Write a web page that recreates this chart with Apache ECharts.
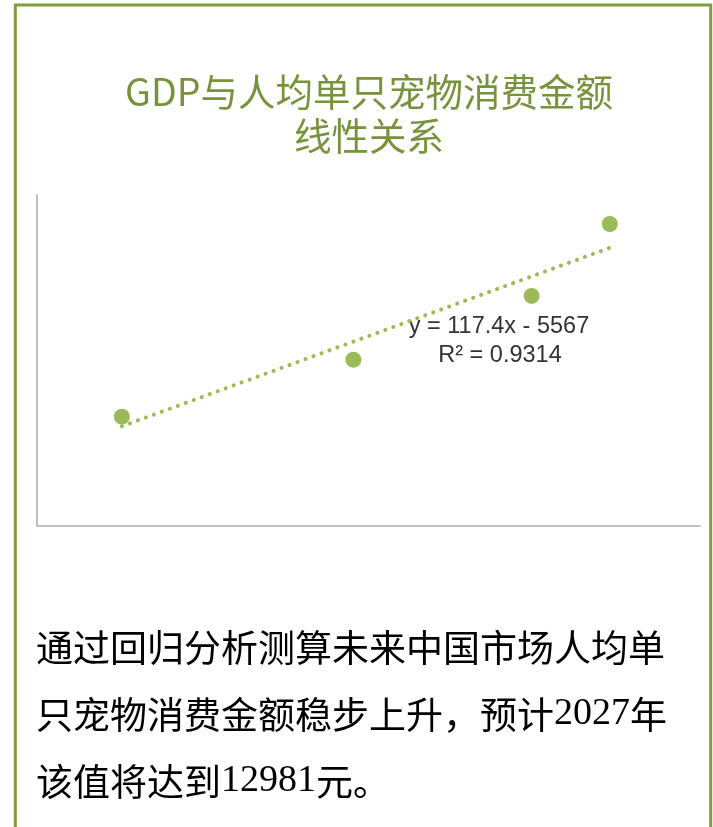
<!DOCTYPE html>
<html>
<head>
<meta charset="utf-8">
<script src="https://cdn.jsdelivr.net/npm/echarts@6/dist/echarts.min.js"></script>
<style>
  html, body { margin: 0; padding: 0; background: #ffffff; }
  #chart { width: 713px; height: 827px; }
</style>
</head>
<body>
<div id="chart"></div>
<script>
// GDP (万亿元) for each year and the matching per-pet annual spend (元)
const gdp = [83.2, 91.93, 98.65, 101.6];
const spendPerPet = [4317, 5007, 5778, 6649];

// Linear trendline fitted to the points above
const trendSlope = 117.4;
const trendIntercept = -5567;
const rSquared = 0.9314;

// Axis ranges (no tick labels are shown)
const xRange = [80, 105];
const yRange = [3000, 7000];

const titleText = 'GDP与人均单只宠物消费金额\n线性关系';
const bodyLines = [
  '{a|通过回归分析测算未来中国市场人均单}',
  '{a|只宠物消费金额稳步上升，预计}{n|2027}{a|年}',
  '{a|该值将达到}{n|12981}{a|元。}'
];

const green = '#9bbb59';
const olive = '#77933c';

const points = gdp.map((x, i) => [x, spendPerPet[i]]);
const xMin = Math.min(...gdp), xMax = Math.max(...gdp);
const trend = [xMin, xMax].map(x => [x, trendSlope * x + trendIntercept]);

const eqText = 'y = ' + trendSlope + 'x - ' + Math.abs(trendIntercept);
const r2Text = 'R\u00B2 = ' + rSquared;

const chart = echarts.init(document.getElementById('chart'), null, { renderer: 'canvas' });

chart.setOption({
  backgroundColor: '#ffffff',
  animation: false,
  grid: { left: 37, right: 13, top: 195, bottom: 301.5, containLabel: false },
  xAxis: {
    type: 'value', min: xRange[0], max: xRange[1],
    axisLine: { show: true, onZero: false, lineStyle: { color: '#bfbfbf', width: 2 } },
    axisTick: { show: false }, axisLabel: { show: false }, splitLine: { show: false }
  },
  yAxis: {
    type: 'value', min: yRange[0], max: yRange[1],
    axisLine: { show: true, onZero: false, lineStyle: { color: '#bfbfbf', width: 2 } },
    axisTick: { show: false }, axisLabel: { show: false }, splitLine: { show: false }
  },
  series: [
    {
      type: 'line',
      data: trend,
      symbol: 'none',
      z: 1,
      lineStyle: { color: green, width: 4, type: [0.1, 8.4], cap: 'round' }
    },
    {
      type: 'scatter',
      data: points,
      symbol: 'circle',
      symbolSize: 16,
      z: 2,
      itemStyle: { color: green, opacity: 1 }
    }
  ],
  graphic: [
    {
      type: 'rect',
      shape: { x: 15.3, y: 5, width: 695.4, height: 1000 },
      style: { fill: 'none', stroke: '#7f9f3a', lineWidth: 3 },
      silent: true
    },
    {
      type: 'text',
      x: 369, y: 70,
      style: {
        text: titleText,
        fill: olive,
        fontFamily: '"Noto Sans CJK SC", sans-serif',
        fontSize: 37.5,
        fontWeight: 'normal',
        lineHeight: 44,
        textAlign: 'center',
        textVerticalAlign: 'top'
      }
    },
    {
      type: 'text',
      x: 499, y: 327,
      style: {
        text: eqText,
        fill: '#333333',
        fontFamily: '"Liberation Sans", Arial, sans-serif',
        fontSize: 23.5,
        textAlign: 'center',
        textVerticalAlign: 'middle'
      }
    },
    {
      type: 'text',
      x: 500, y: 356,
      style: {
        text: r2Text,
        fill: '#333333',
        fontFamily: '"Liberation Sans", Arial, sans-serif',
        fontSize: 23.5,
        textAlign: 'center',
        textVerticalAlign: 'middle'
      }
    },
    {
      type: 'text',
      x: 36, y: 614,
      style: {
        text: bodyLines.join('\n'),
        textAlign: 'left',
        textVerticalAlign: 'top',
        rich: {
          a: { fontFamily: '"Noto Sans CJK SC", sans-serif', fontSize: 37, lineHeight: 67, fill: '#000000', color: '#000000' },
          n: { fontFamily: '"Liberation Serif", "Times New Roman", serif', fontSize: 38, lineHeight: 67, fill: '#000000', color: '#000000' }
        }
      }
    }
  ]
});
</script>
</body>
</html>
